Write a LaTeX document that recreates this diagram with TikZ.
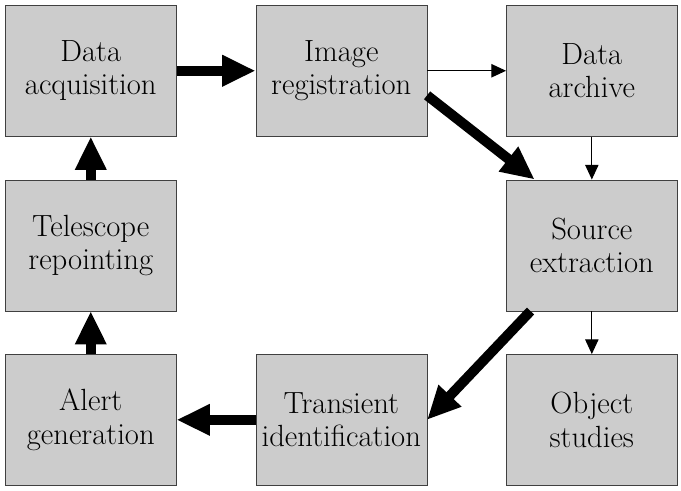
\documentclass[tikz,border=0pt]{standalone}
\usetikzlibrary{arrows.meta,positioning}
\definecolor{boxgray}{RGB}{204,204,204}
\tikzset{
  stage/.style     ={draw=black!75,fill=boxgray,align=center,minimum width=128.25pt,minimum height=98.25pt,
                     inner sep=1pt,font=\fontsize{23}{25}\selectfont},
  bigarrow/.style  ={-{Triangle[length=25pt,width=22pt]},line width=7.5pt},
  smallarrow/.style={-{Triangle[length=11pt,width=10pt]},line width=0.8pt}
}

\begin{document}
\begin{tikzpicture}[node distance=32.25pt and 59.25pt]
    \useasboundingbox (0,0) rectangle (510.75pt,-368.25pt);
    \node[stage,anchor=north west] (acq) at (3.75pt,-3.75pt) {Data\\acquisition};
    \node[stage,right=of acq]      (reg)       {Image\\registration};
    \node[stage,right=of reg]      (archive)   {Data\\archive};
    \node[stage,below=of archive]  (source)    {Source\\extraction};
    \node[stage,below=of source]   (objects)   {Object\\studies};
    \node[stage,left=of objects]   (transient) {Transient\\identification};
    \node[stage,below=of acq]      (repoint)   {Telescope\\repointing};
    \node[stage,below=of repoint]  (alert)     {Alert\\generation};
    \draw[bigarrow]   (acq)           -- (reg);
    \draw[smallarrow] (reg)           -- (archive);
    \draw[bigarrow]   (reg.-16)       -- (source.131);
    \draw[smallarrow] (archive)       -- (source);
    \draw[smallarrow] (source)        -- (objects);
    \draw[bigarrow]   (source.227)    -- (transient.east);
    \draw[bigarrow]   (transient)     -- (alert);
    \draw[bigarrow]   (alert)         -- (repoint);
    \draw[bigarrow]   (repoint)       -- (acq);
  \end{tikzpicture}
\end{document}
